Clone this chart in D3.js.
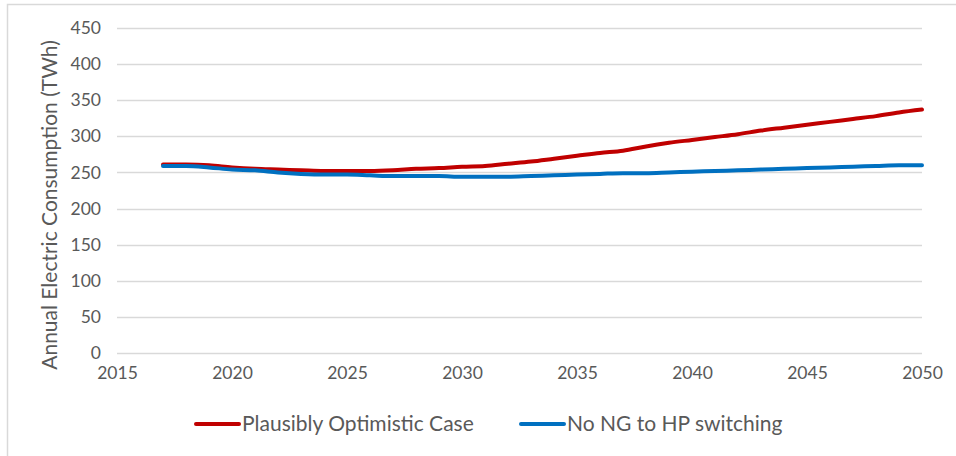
<!DOCTYPE html>
<html>
<head>
<meta charset="utf-8">
<script src="https://d3js.org/d3.v7.min.js"></script>
<style>
  body { margin: 0; background: #fff; }
  svg text { font-family: Lato, "Open Sans", sans-serif; fill: #595959; }
</style>
</head>
<body>
<svg width="956" height="456"></svg>
<script>
// years and series
var years = d3.range(2017, 2051);
var optimistic = [261, 261, 260, 257, 255, 254, 253, 252, 252, 252,
                  253, 255, 256, 258, 259, 262, 265, 269, 273, 277,
                  280, 286, 291, 295, 299, 303, 308, 312, 316, 320,
                  324, 328, 333, 337];
var noSwitch = [259, 259, 257, 254, 253, 250, 248, 247, 247, 246,
                245, 245, 245, 244, 244, 244, 245, 246, 247, 248,
                249, 249, 250, 251, 252, 253, 254, 255, 256, 257,
                258, 259, 260, 260];
var yTicks = [0, 50, 100, 150, 200, 250, 300, 350, 400, 450];
var xTicks = [2015, 2020, 2025, 2030, 2035, 2040, 2045, 2050];
var seriesNames = ["Plausibly Optimistic Case", "No NG to HP switching"];
var seriesColors = ["#c00000", "#0070c0"];

var svg = d3.select("svg");

// outer frame (only top and left edges show in the picture)
svg.append("path")
    .attr("d", "M7.5,460 V4.5 H960")
    .attr("fill", "none")
    .attr("stroke", "#d9d9d9")
    .attr("stroke-width", 1.5);

var x = d3.scaleLinear().domain([2015, 2050]).range([117, 922]);
var y = d3.scaleLinear().domain([0, 450]).range([353, 28]);

// gridlines
svg.append("g")
  .selectAll("line")
  .data(yTicks)
  .enter().append("line")
    .attr("x1", x(2015))
    .attr("x2", x(2050))
    .attr("y1", function(d) { return Math.round(y(d)) + 0.5; })
    .attr("y2", function(d) { return Math.round(y(d)) + 0.5; })
    .attr("stroke", "#d9d9d9")
    .attr("stroke-width", 1.5);

// y axis labels
var yAxis = d3.axisLeft(y).tickValues(yTicks).tickSize(0).tickPadding(0);
svg.append("g")
    .attr("transform", "translate(101,0)")
    .call(yAxis)
    .call(function(g) { g.select(".domain").remove(); })
    .selectAll("text")
      .style("font-size", "17.5px")
      .attr("fill", "#595959");

// x axis labels
var xAxis = d3.axisBottom(x).tickValues(xTicks).tickFormat(d3.format("d")).tickSize(0).tickPadding(0);
svg.append("g")
    .attr("transform", "translate(0,367)")
    .call(xAxis)
    .call(function(g) { g.select(".domain").remove(); })
    .selectAll("text")
      .style("font-size", "17.5px")
      .attr("fill", "#595959");

// y axis title
svg.append("text")
    .attr("transform", "translate(57,205) rotate(-90)")
    .attr("text-anchor", "middle")
    .style("font-size", "21px")
    .text("Annual Electric Consumption (TWh)");

// lines
var line = d3.line()
    .x(function(d, i) { return x(years[i]); })
    .y(function(d) { return y(d); })
    .curve(d3.curveMonotoneX);

[optimistic, noSwitch].forEach(function(vals, k) {
  svg.append("path")
      .datum(vals)
      .attr("fill", "none")
      .attr("stroke", seriesColors[k])
      .attr("stroke-width", 4)
      .attr("stroke-linecap", "round")
      .attr("stroke-linejoin", "round")
      .attr("d", line);
});

// legend
var legendX = [196, 521];
var legend = svg.append("g");
seriesNames.forEach(function(name, k) {
  legend.append("line")
      .attr("x1", legendX[k])
      .attr("x2", legendX[k] + 43)
      .attr("y1", 424)
      .attr("y2", 424)
      .attr("stroke", seriesColors[k])
      .attr("stroke-width", 4)
      .attr("stroke-linecap", "round");
  legend.append("text")
      .attr("x", legendX[k] + 46)
      .attr("y", 431)
      .style("font-size", "21px")
      .text(name);
});
</script>
</body>
</html>
